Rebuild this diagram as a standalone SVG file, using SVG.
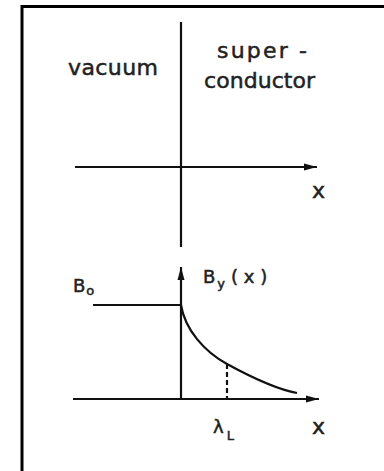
<svg xmlns="http://www.w3.org/2000/svg" width="384" height="471" viewBox="0 0 384 471">
<style>
.ax{stroke:#111;stroke-width:2.2;fill:none}
.t{font-family:"DejaVu Sans","Liberation Sans",sans-serif;fill:#222;stroke:#222;stroke-width:0.5}
.big{font-size:22px}
.lab{font-size:18px}
.sub{font-size:13px}
</style>
<defs>
<marker id="arr" markerUnits="userSpaceOnUse" markerWidth="13" markerHeight="8" refX="13" refY="4" orient="auto">
<path d="M0,0.5 L13,4 L0,7.5 z" fill="#111"/>
</marker>
</defs>
<rect x="0" y="0" width="384" height="471" fill="#fff"/>
<g id="frame">
<path d="M22,471 V6.5 H384" stroke="#000" stroke-width="3" fill="none"/>
</g>
<g id="upper">
<line class="ax" x1="181" y1="22" x2="181" y2="247"/>
<line class="ax" x1="75" y1="167" x2="317" y2="167" marker-end="url(#arr)"/>
<text class="t big" x="68" y="75" textLength="90" lengthAdjust="spacing">vacuum</text>
<text class="t big" x="217" y="58" textLength="90" lengthAdjust="spacing">super -</text>
<text class="t big" x="204" y="88" textLength="111" lengthAdjust="spacing">conductor</text>
<text class="t big" x="312" y="198">x</text>
</g>
<g id="lower">
<line class="ax" x1="181" y1="399" x2="181" y2="267" marker-end="url(#arr)"/>
<line class="ax" x1="73" y1="399" x2="319" y2="399" marker-end="url(#arr)"/>
<line class="ax" x1="93" y1="305" x2="181" y2="305"/>
<path class="ax" d="M181,305 C185,330 205,352 227,364 S275,389 297,393"/>
<line class="ax" x1="227" y1="364" x2="227" y2="399" stroke-dasharray="5,3"/>
<text class="t lab" x="73" y="292">B<tspan class="sub" dx="1" dy="3">o</tspan></text>
<text class="t lab" x="203" y="283">B<tspan class="sub" dx="2" dy="5">y</tspan><tspan dx="6" dy="-5">( x )</tspan></text>
<text class="t lab" x="213" y="433">λ<tspan class="sub" dx="3" dy="7">L</tspan></text>
<text class="t big" x="312" y="434">x</text>
</g>
</svg>
